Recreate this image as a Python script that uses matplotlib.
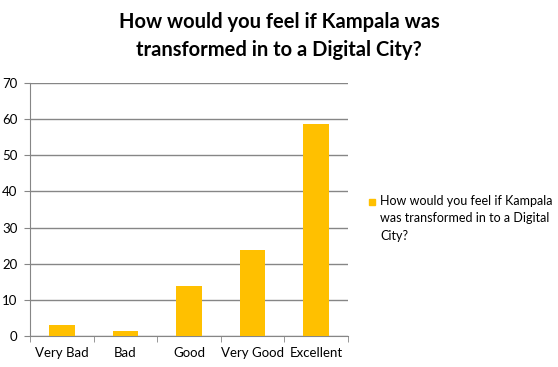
import numpy as np
import matplotlib.pyplot as plt
from matplotlib.patches import Rectangle

categories = ['Very Bad', 'Bad', 'Good', 'Very Good', 'Excellent']
values = [3.0, 1.4, 13.7, 23.7, 58.6]
series_name = 'How would you feel if Kampala\nwas transformed in to a Digital\nCity?'
title = 'How would you feel if Kampala was\ntransformed in to a Digital City?'
bar_color = '#FFC000'

plt.rcParams['font.family'] = ['Lato', 'DejaVu Sans']

fig = plt.figure(figsize=(5.58, 3.67), dpi=100)
ax = fig.add_axes([30/558, 31/367, 318/558, 253/367])

x = np.arange(len(categories))
ax.bar(x, values, width=0.4, color=bar_color, zorder=3)

ax.set_xlim(-0.5, len(categories) - 0.5)
ax.set_ylim(0, 70)
ax.set_yticks(np.arange(0, 71, 10))
ax.yaxis.grid(True, color='#868686', linewidth=1)
ax.set_axisbelow(True)

ax.set_xticks(x)
ax.set_xticklabels(categories, fontsize=9.5)
ax.set_xticks(np.arange(-0.5, len(categories)), minor=True)
ax.tick_params(axis='x', which='major', length=0, pad=8)
ax.tick_params(axis='x', which='minor', length=4, color='#868686')
ax.tick_params(axis='y', length=4, color='#868686', labelsize=9.5, pad=5)

for s in ['top', 'right']:
    ax.spines[s].set_visible(False)
for s in ['left', 'bottom']:
    ax.spines[s].set_color('#868686')

fig.text(0.5, 1 - 36/367, title, ha='center', va='center', fontsize=14.5,
         fontweight='bold', linespacing=1.55)

# legend: square aligned with the first line of the series name
fig.patches.append(Rectangle((369/558, 1 - 205/367), 6/558, 6/367,
                             transform=fig.transFigure, color=bar_color))
fig.text(380/558, 1 - 195/367, series_name, ha='left', va='top', fontsize=9,
         linespacing=1.55)

fig.savefig('out.png', dpi=100)
